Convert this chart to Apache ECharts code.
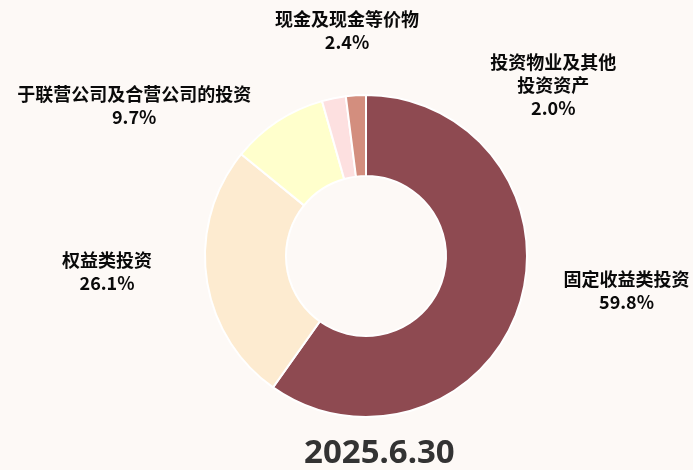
<!DOCTYPE html>
<html>
<head>
<meta charset="utf-8">
<script src="https://cdn.jsdelivr.net/npm/echarts@6/dist/echarts.min.js"></script>
<style>
    html, body { margin: 0; padding: 0; background: #fdf9f6; }
    #main { width: 693px; height: 470px; }
</style>
</head>
<body>
<div id="main"></div>
<script>
// 资产配置 占比 (%), 从 12 点方向顺时针
var categories = ['固定收益类投资', '权益类投资', '于联营公司及合营公司的投资', '现金及现金等价物', '投资物业及其他\n投资资产'];
var values = [59.8, 26.1, 9.7, 2.4, 2.0];
var titleText = '2025.6.30';

// 样式: 每块颜色 和 标签引线长度 (引线不显示, 只用来摆放标签)
var colors = ['#8e4a51', '#fdebd0', '#ffffcc', '#fde0e0', '#d38e7e'];
var lineLen = [-45, -46, 19, 69, 10];
var lineLen2 = [145, 140, 128, -32, -203];

var myChart = echarts.init(document.getElementById('main'));

var pieData = [];
for (var i = 0; i < categories.length; i++)
{
    pieData.push({
        name: categories[i],
        value: values[i],
        itemStyle: { color: colors[i] },
        labelLine: { show: false, length: lineLen[i], length2: lineLen2[i] }
    });
}

myChart.setOption({
    backgroundColor: '#fdf9f6',
    title: {
        text: titleText,
        left: 299,
        top: 432,
        textStyle: {
            fontFamily: 'Noto Sans',
            fontSize: 33,
            fontWeight: 'bold',
            color: '#333333'
        }
    },
    series: [{
        type: 'pie',
        center: [366, 256],
        radius: [80, 161],
        startAngle: 90,
        clockwise: true,
        avoidLabelOverlap: false,
        animation: false,
        itemStyle: {
            borderColor: '#ffffff',
            borderWidth: 2
        },
        label: {
            show: true,
            position: 'outside',
            formatter: function (p) {
                return p.name + '\n' + p.value.toFixed(1) + '%';
            },
            fontFamily: 'Noto Sans CJK SC',
            fontSize: 18,
            fontWeight: 'bold',
            lineHeight: 23,
            color: '#0a0a0a'
        },
        labelLayout: function () {
            return { align: 'center', verticalAlign: 'middle' };
        },
        data: pieData
    }]
});
</script>
</body>
</html>
